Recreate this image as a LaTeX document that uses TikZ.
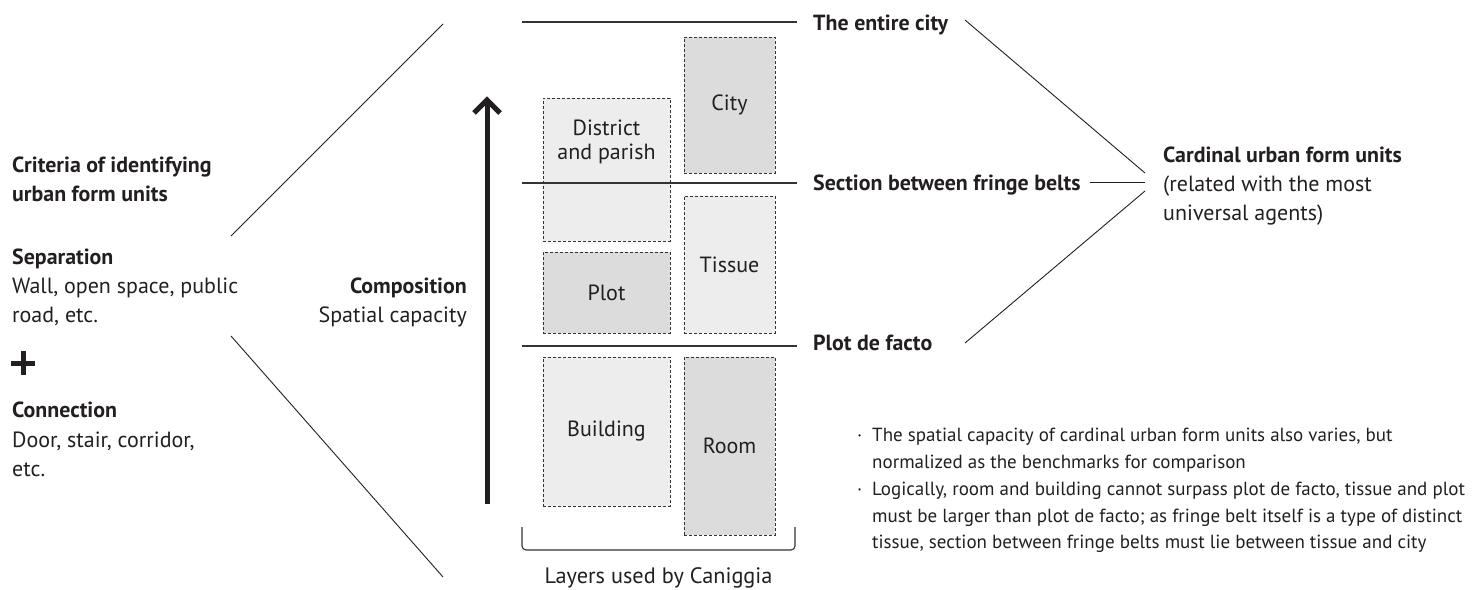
\documentclass[tikz,border=0pt]{standalone}
\usepackage{fontspec}
\setmainfont{PT Sans}
\begin{document}
\definecolor{ink}{HTML}{231F20}
\definecolor{rule}{HTML}{333333}
\definecolor{paleface}{HTML}{EDEDED}
\definecolor{greyface}{HTML}{DCDCDD}
\tikzset{
  txt/.style={inner sep=0pt, anchor=base west, text=ink, font=\fontsize{22}{29}\selectfont},
  btxt/.style={txt, font=\fontsize{21.9}{29}\selectfont\bfseries},
  rtxt/.style={txt, anchor=base east},
  rbtxt/.style={btxt, anchor=base east},
  note/.style={txt, font=\fontsize{19}{27}\selectfont},
  layer/.style={draw=rule, line width=0.9pt, dash pattern=on 3pt off 2pt, inner sep=0pt,
                text=ink, font=\fontsize{22}{29}\selectfont},
  divider/.style={draw=rule, line width=1.3pt},
  thin/.style={draw=ink, line width=0.9pt},
  heavy/.style={draw=ink, line width=5pt},
}
\begin{tikzpicture}[x=1pt, y=-1pt]
  \useasboundingbox (0,0) rectangle (1474,589);

  % --- left column: criteria ---
  \node[btxt] (crit1) at (12,172) {Criteria of identifying};
  \node[btxt] (crit2) at (12,201) {urban form units};
  \node[btxt] (sep)   at (12,264) {Separation};
  \node[txt]  (sep1)  at (12,293) {Wall, open space, public};
  \node[txt]  (sep2)  at (12,322) {road, etc.};
  \node[btxt] (con)   at (12,417) {Connection};
  \node[txt]  (con1)  at (12,447) {Door, stair, corridor,};
  \node[txt]  (con2)  at (12,476) {etc.};

  % plus sign between the two criteria
  \coordinate (plusC) at (23,363);
  \draw[heavy] ([xshift=-12pt]plusC) -- ([xshift=12pt]plusC);
  \draw[heavy] ([yshift=-12pt]plusC) -- ([yshift=12pt]plusC);

  % diagonals opening towards the layers
  \coordinate (lfU) at (231,236);
  \coordinate (ltU) at (443,24);
  \coordinate (lfD) at (231,336);
  \coordinate (ltD) at (443,577);
  \draw[thin] (lfU) -- (ltU);
  \draw[thin] (lfD) -- (ltD);

  % --- composition arrow ---
  \node[rbtxt] (comp)  at (467,293) {Composition};
  \node[rtxt]  (compS) at (467,322) {Spatial capacity};
  \coordinate (arB) at (487,504);
  \coordinate (arT) at (487,100);
  \draw[heavy, line cap=butt] (arB) -- ([yshift=-2pt]arT);
  \draw[heavy, line join=miter] ([xshift=-13pt, yshift=-13pt]arT) -- (arT) -- ([xshift=13pt, yshift=-13pt]arT);

  % --- layers ---
  \node[layer, fill=greyface, minimum width=91pt, minimum height=136pt] (city) at (729.5,105) {City};
  \node[layer, fill=paleface, minimum width=127pt, minimum height=143pt] (district) at (606.5,169.5) {};
  \node[inner sep=0pt, text=ink, font=\fontsize{22}{24}\selectfont, align=center] (districtT) at (606.5,142) {District\\and parish};
  \node[layer, fill=paleface, minimum width=91pt, minimum height=137pt] (tissue) at (729.5,264.5) {Tissue};
  \node[layer, fill=greyface, minimum width=127pt, minimum height=81pt] (plot) at (606.5,292.5) {Plot};
  \node[layer, fill=paleface, minimum width=127pt, minimum height=149pt] (building) at (606.5,431.5) {Building};
  \node[layer, fill=greyface, minimum width=91pt, minimum height=178pt] (room) at (729.5,446) {Room};

  % scale dividers
  \coordinate (d1L) at (522,22);  \coordinate (d1R) at (797,22);
  \coordinate (d2L) at (522,183); \coordinate (d2R) at (797,183);
  \coordinate (d3L) at (522,346); \coordinate (d3R) at (797,346);
  \draw[divider] (d1L) -- (d1R);
  \draw[divider] (d2L) -- (d2R);
  \draw[divider] (d3L) -- (d3R);

  % bracket under the layers
  \coordinate (brL) at (522,527);
  \coordinate (brR) at (795,527);
  \draw[draw=rule, line width=1.1pt, rounded corners=4pt] (brL) -- (522,550) -- (795,550) -- (brR);
  \node[txt, anchor=base, font=\fontsize{22.3}{29}\selectfont] (caniggia) at (658.5,583) {Layers used by Caniggia};

  % --- scale labels ---
  \node[btxt] (entire) at (813,30)  {The entire city};
  \node[btxt] (fringe) at (813,190) {Section between fringe belts};
  \node[btxt] (facto)  at (813,350) {Plot de facto};

  % --- cardinal units ---
  \node[btxt] (card1) at (1163,162) {Cardinal urban form units};
  \node[txt]  (card2) at (1163,191) {(related with the most};
  \node[txt]  (card3) at (1163,220) {universal agents)};

  \coordinate (cU) at (1145,173);
  \coordinate (cM) at (1145,182);
  \coordinate (cD) at (1145,191);
  \coordinate (eR) at (965,20);
  \coordinate (fR) at ([xshift=9pt]fringe.east |- cM);
  \coordinate (pR) at (965,343);
  \draw[thin] (eR) -- (cU);
  \draw[thin] (fR) -- (cM);
  \draw[thin] (pR) -- (cD);

  % --- notes ---
  \node[note] (b1) at (857,441) {\textperiodcentered};
  \node[note] (n1) at (872,441) {The spatial capacity of cardinal urban form units also varies, but};
  \node[note] (n2) at (872,468) {normalized as the benchmarks for comparison};
  \node[note] (b2) at (857,495) {\textperiodcentered};
  \node[note] (n3) at (872,495) {Logically, room and building cannot surpass plot de facto, tissue and plot};
  \node[note] (n4) at (872,522) {must be larger than plot de facto; as fringe belt itself is a type of distinct};
  \node[note] (n5) at (872,548) {tissue, section between fringe belts must lie between tissue and city};
\end{tikzpicture}
\end{document}
